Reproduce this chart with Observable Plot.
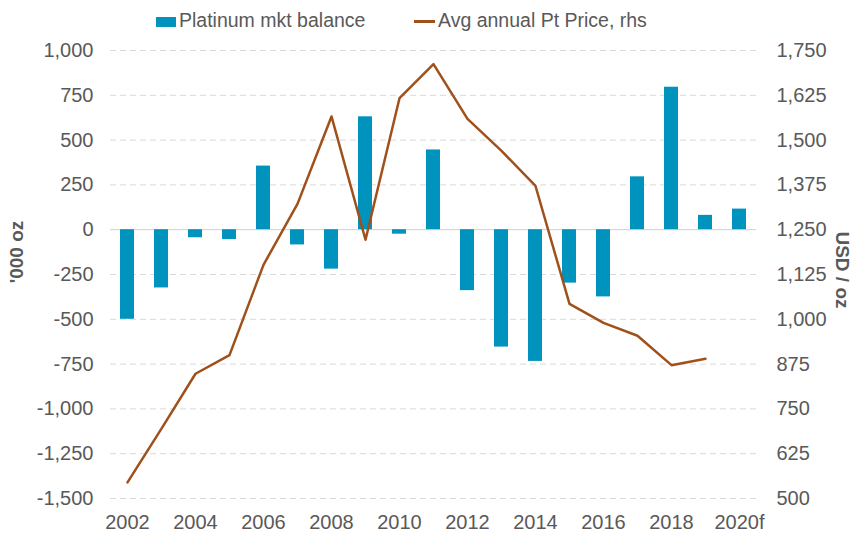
<!DOCTYPE html>
<html><head><meta charset="utf-8">
<script src="https://cdn.jsdelivr.net/npm/d3@7"></script>
<script src="https://cdn.jsdelivr.net/npm/@observablehq/plot@0.6"></script>
<style>
body{margin:0;background:#fff;font-family:"Liberation Sans",Arial,sans-serif;}
#wrap{position:relative;width:851px;height:535px;overflow:hidden;}
#chart{position:absolute;left:0;top:0;}
#legend{position:absolute;left:0;top:0;width:851px;height:40px;font-size:19.5px;color:#595959;z-index:2;}
#legend span{position:absolute;display:block;}
#legend .lt{top:10px;line-height:20px;white-space:nowrap;}
.atitle{position:absolute;font-size:19px;font-weight:bold;color:#595959;white-space:nowrap;line-height:19px;z-index:2;}
</style></head>
<body>
<div id="wrap">
  <div id="chart"></div>
  <div id="legend">
    <span style="left:156px;top:17px;width:20px;height:10px;background:#0093bd"></span>
    <span class="lt" id="l1" style="left:179px"></span>
    <span style="left:414px;top:20px;width:21px;height:2.5px;background:#a0501a"></span>
    <span class="lt" id="l2" style="left:438px"></span>
  </div>
  <div class="atitle" id="t1" style="left:16px;top:252px;transform:translate(-50%,-50%) rotate(-90deg);"></div>
  <div class="atitle" id="t2" style="left:842px;top:270px;transform:translate(-50%,-50%) rotate(90deg);"></div>
</div>
<script>
const years = ["2002","2003","2004","2005","2006","2007","2008","2009","2010","2011","2012","2013","2014","2015","2016","2017","2018","2019","2020f"];
const balance = [-500,-325,-45,-55,355,-85,-220,630,-25,445,-340,-655,-735,-298,-375,295,795,80,115];
const priceYears = ["2002","2003","2004","2005","2006","2007","2008","2009","2010","2011","2012","2013","2014","2015","2016","2017","2018","2019"];
const price = [545,695,848,900,1152,1322,1566,1222,1617,1712,1559,1470,1372,1043,990,954,872,890];
const leftTicks = [-1500,-1250,-1000,-750,-500,-250,0,250,500,750,1000];
const rightTicks = [500,625,750,875,1000,1125,1250,1375,1500,1625,1750];
const xTickLabels = ["2002","2004","2006","2008","2010","2012","2014","2016","2018","2020f"];
const legendLabels = ["Platinum mkt balance","Avg annual Pt Price, rhs"];
const axisTitles = ["'000 oz","USD / oz"];

document.getElementById("l1").textContent = legendLabels[0];
document.getElementById("l2").textContent = legendLabels[1];
document.getElementById("t1").textContent = axisTitles[0];
document.getElementById("t2").textContent = axisTitles[1];

const toLeft = d3.scaleLinear([500,1750],[-1500,1000]);
const bars = years.map((year,i)=>({year, value: balance[i]}));
const line = price.map((p,i)=>({year: priceYears[i], y: toLeft(p)}));
const fmt = d3.format(",");
const fmtH = d => fmt(d).replace("\u2212","-");

const chart = Plot.plot({
  width:851, height:535, marginTop:50, marginBottom:37, marginLeft:110, marginRight:95,
  style:{fontFamily:'"Liberation Sans", Arial, sans-serif', fontSize:"20px", color:"#595959", background:"#fff", overflow:"visible"},
  x:{type:"band", domain:years, paddingInner:0.6, paddingOuter:0.3, align:0.5},
  y:{domain:[-1500,1000]},
  marks:[
    Plot.ruleY(leftTicks.filter(d=>d!==0), {stroke:"#d9d9d9", strokeDasharray:"6,4", strokeWidth:1}),
    Plot.ruleY([0], {stroke:"#d9d9d9", strokeWidth:1.3}),
    Plot.barY(bars, {x:"year", y:"value", fill:"#0093bd"}),
    Plot.lineY(line, {x:"year", y:"y", stroke:"#a0501a", strokeWidth:2.5}),
    Plot.axisX({ticks: xTickLabels, tickSize:0, tickPadding:16, label:null}),
    Plot.axisY({anchor:"left", ticks:leftTicks, tickSize:0, tickPadding:17, tickFormat: fmtH, label:null}),
    Plot.axisY({anchor:"right", ticks:rightTicks.map(toLeft), tickSize:0, tickPadding:20, tickFormat: d=>fmtH(Math.round(toLeft.invert(d))), label:null})
  ]
});
document.getElementById("chart").appendChild(chart);
</script>
</body></html>
